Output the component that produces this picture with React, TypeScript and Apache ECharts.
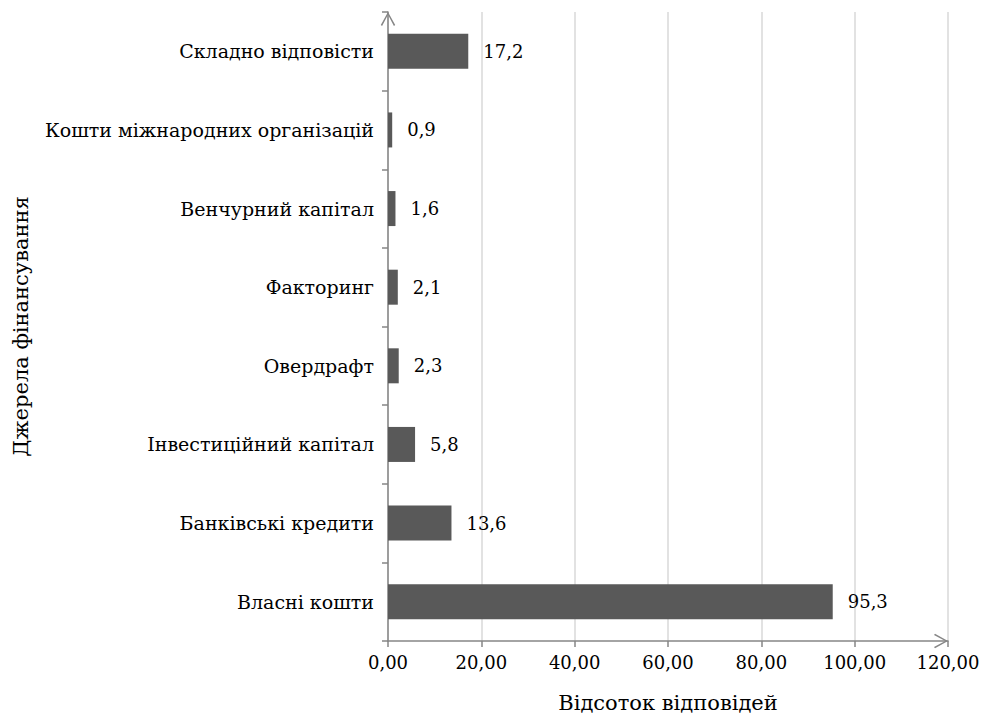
import React, { useEffect, useRef } from "react";
import * as echarts from "echarts";

const categories = [
  "Власні кошти",
  "Банківські кредити",
  "Інвестиційний капітал",
  "Овердрафт",
  "Факторинг",
  "Венчурний капітал",
  "Кошти міжнародних організацій",
  "Складно відповісти",
];
const values = [95.3, 13.6, 5.8, 2.3, 2.1, 1.6, 0.9, 17.2];
const xMin = 0;
const xMax = 120;
const xInterval = 20;
const xAxisName = "Відсоток відповідей";
const yAxisName = "Джерела фінансування";

const FONT = "DejaVu Serif";
const AXIS_COLOR = "#868686";
const ARROW = "path://M5,0 L10,9 L9.1,9.7 L5,1.9 L0.9,9.7 L0,9 Z";

export default function App() {
  const ref = useRef<HTMLDivElement>(null);
  useEffect(() => {
    if (!ref.current) return;
    const chart = echarts.init(ref.current, null, { renderer: "svg" });
    chart.setOption({
      animation: false,
      backgroundColor: "#ffffff",
      textStyle: { fontFamily: FONT },
      grid: {
        left: 388,
        top: 12,
        width: 560,
        bottom: 75,
        containLabel: false,
        outerBoundsMode: "none",
      },
      xAxis: {
        type: "value",
        min: xMin,
        max: xMax,
        interval: xInterval,
        name: xAxisName,
        nameLocation: "middle",
        nameGap: 51,
        nameTextStyle: { fontFamily: FONT, fontSize: 21, color: "#000" },
        axisLine: {
          show: true,
          lineStyle: { color: AXIS_COLOR, width: 1.5 },
          symbol: ["none", ARROW],
          symbolSize: [15, 14],
          symbolOffset: [0, -7],
        },
        axisTick: { show: true, length: 6, lineStyle: { color: AXIS_COLOR, width: 1.5 } },
        axisLabel: {
          fontFamily: FONT,
          fontSize: 18,
          color: "#000",
          margin: 12,
          formatter: (v: number) => v.toFixed(2).replace(".", ","),
        },
        splitLine: { show: true, lineStyle: { color: "#d9d9d9", width: 1.5 } },
      },
      yAxis: {
        type: "category",
        data: categories,
        name: yAxisName,
        nameLocation: "middle",
        nameGap: 357,
        nameRotate: 90,
        nameTextStyle: { fontFamily: FONT, fontSize: 21, color: "#000" },
        axisLine: {
          show: true,
          lineStyle: { color: AXIS_COLOR, width: 1.5 },
          symbol: ["none", ARROW],
          symbolSize: [15, 14],
          symbolOffset: [0, -7],
        },
        axisTick: { show: true, length: 6, lineStyle: { color: AXIS_COLOR, width: 1.5 } },
        axisLabel: { fontFamily: FONT, fontSize: 19, color: "#000", margin: 14 },
      },
      series: [
        {
          type: "bar",
          data: values,
          barWidth: 35,
          itemStyle: { color: "#595959" },
          label: {
            show: true,
            position: "right",
            distance: 15,
            fontFamily: FONT,
            fontSize: 18,
            color: "#000",
            formatter: (p: any) => Number(p.value).toFixed(1).replace(".", ","),
          },
        },
      ],
    });
    return () => chart.dispose();
  }, []);
  return (
    <div
      ref={ref}
      style={{ position: "fixed", left: 0, top: 0, width: 985, height: 716, background: "#fff" }}
    />
  );
}
